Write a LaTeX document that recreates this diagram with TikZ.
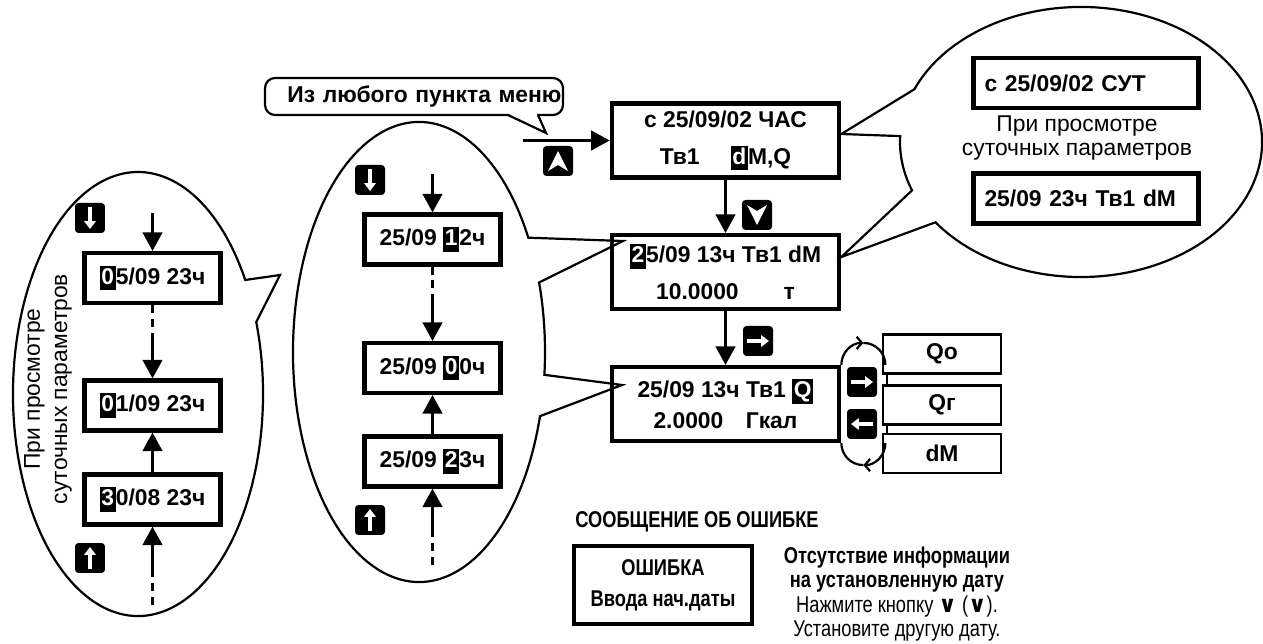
\documentclass[tikz,border=0pt]{standalone}
\usepackage{fontspec}
\setmainfont{Liberation Sans}
\newfontfamily\narrowsf[FakeStretch=0.8]{Liberation Sans}
\newfontfamily\symsf{DejaVu Sans}
\usetikzlibrary{arrows.meta,calc,positioning}
\newcommand{\inv}[1]{{\setlength{\fboxsep}{1pt}\colorbox{black}{\rule[-2.5pt]{0pt}{12pt}\textcolor{white}{#1}}}}
\tikzset{
  lcd/.style={draw,line width=2.4pt,minimum width=4.55cm,minimum height=1.48cm,align=center,inner sep=0pt,font=\fontsize{13}{15}\selectfont\bfseries},
  cell/.style={draw,line width=2.4pt,minimum width=2.72cm,minimum height=1.0cm,inner sep=0pt,font=\fontsize{13}{15}\selectfont\bfseries},
  daybox/.style={draw,line width=2.4pt,minimum height=1.0cm,text width=4.06cm,inner xsep=0.22cm,inner ysep=0pt,align=left,font=\fontsize{13}{15}\selectfont\bfseries},
  optbox/.style={draw,line width=1.5pt,minimum width=2.36cm,minimum height=0.78cm,inner sep=0pt,font=\fontsize{13}{15}\selectfont\bfseries},
  keybtn/.style={fill=black,rounded corners=2pt,minimum size=0.6cm,inner sep=0pt},
  note/.style={align=center,font=\fontsize{13}{13.5}\selectfont},
  flow/.style={line width=1.6pt,-{Triangle[length=0.37cm,width=0.39cm]}},
  gapline/.style={line width=1.6pt,dash pattern=on 4.5pt off 3.4pt},
  bubble/.style={line width=1.25pt,line join=miter},
  swing/.style={line width=1.25pt,-{Straight Barb[length=3pt,width=7pt]}},
  whitearr/.style={white,line width=1.8pt,-{Triangle[length=4.5pt,width=6.5pt]}}
}

\begin{document}
\begin{tikzpicture}[x=0.02cm,y=-0.02cm]
  \useasboundingbox (0,0) rectangle (1263,644);

  \node[lcd] (hourhdr) at (725.5,140.5) {с 25/09/02 ЧАС\\[6pt]Тв1\hspace{0.62cm}\inv{d}M,Q};
  \node[lcd] (dmval) at (725.5,272) {\inv{2}5/09 13ч Тв1 dM\\[6pt]10.0000\hspace{0.9cm}т};
  \node[lcd] (qval) at (725.5,404) {25/09 13ч Тв1 \inv{Q}\\[3pt]2.0000\hspace{0.45cm}Гкал};

  \node[draw,bubble,rounded corners=0.2cm,minimum width=5.96cm,minimum height=0.74cm,text width=5.9cm,align=right,inner sep=0.03cm,font=\fontsize{13}{15}\selectfont\bfseries] (anymenu) at (414,96.5) {Из любого пункта меню};
  \coordinate (tailL) at (508,115);
  \coordinate (tailR) at (538,115);
  \coordinate (tailtip) at (546,133);
  \fill[white] (509,112) -- (509,117) -- (tailtip) -- (537,117) -- (537,112) -- cycle;
  \draw[bubble] (tailL) -- (tailtip) -- (tailR);

  \coordinate (entry) at (523,140.5);
  \draw[flow] (entry) -- (hourhdr.west);
  \node[keybtn] (kup) at (558,161) {};
  \fill[white] ($(kup)+(0,-10)$) -- ($(kup)+(10,10)$) -- ($(kup)+(0,4)$) -- ($(kup)+(-10,10)$) -- cycle;

  \draw[flow] (hourhdr.south) -- (dmval.north);
  \node[keybtn] (kdown) at (757,215) {};
  \fill[white] ($(kdown)+(0,10)$) -- ($(kdown)+(10,-10)$) -- ($(kdown)+(0,-4)$) -- ($(kdown)+(-10,-10)$) -- cycle;

  \draw[flow] (dmval.south) -- (qval.north);
  \node[keybtn] (kright) at (758,341) {};
  \draw[whitearr] ($(kright)+(-11,0)$) -- ($(kright)+(11,0)$);

  \node[optbox] (qo) at (942,354) {Qo};
  \node[optbox] (qg) at (942,405) {Qг};
  \node[optbox] (dm) at (942,453.5) {dM};
  \draw[line width=1.2pt] ([xshift=0.1cm]qo.south west) -- ([xshift=0.1cm]qg.north west);
  \draw[line width=1.2pt] ([xshift=0.1cm]qg.south west) -- ([xshift=0.1cm]dm.north west);

  \draw[swing] (qval.north east) arc[start angle=180,end angle=270,radius=22] coordinate (topapex);
  \draw[line width=1.25pt] (topapex) arc[start angle=270,end angle=360,radius=22];
  \coordinate (dmfoot) at ($(qval.south east)+(44,0)$);
  \draw[swing] (dmfoot) arc[start angle=0,end angle=90,radius=22] coordinate (botapex);
  \draw[line width=1.25pt] (botapex) arc[start angle=90,end angle=180,radius=22];
  \node[keybtn] (kfwd) at (862,382) {};
  \draw[whitearr] ($(kfwd)+(-11,0)$) -- ($(kfwd)+(11,0)$);
  \node[keybtn] (kback) at (862,424) {};
  \draw[whitearr] ($(kback)+(11,0)$) -- ($(kback)+(-11,0)$);

  \coordinate (midc) at (419,352);
  \coordinate (tipdm) at (623,241);
  \coordinate (tipq) at (622,385);
  \draw[bubble] ($(midc)+(16.2:126 and 230)$) arc[start angle=16.2,end angle=330.2,x radius=126,y radius=230]
    -- (tipdm) -- ($(midc)+(342.4:126 and 230)$) arc[start angle=342.4,end angle=365.7,x radius=126,y radius=230]
    -- (tipq) -- cycle;
  \node[cell] (h12) at (432.5,239.5) {25/09 \inv{1}2ч};
  \node[cell] (h00) at (432.5,368) {25/09 \inv{0}0ч};
  \node[cell] (h23) at (432.5,461.5) {25/09 \inv{2}3ч};
  \coordinate (mtop) at (432.5,174);
  \coordinate (mgap) at (432.5,302);
  \coordinate (mgap2) at (432.5,533);
  \coordinate (mbot) at (432.5,565);
  \draw[flow] (mtop) -- (h12.north);
  \draw[gapline] (h12.south) -- (mgap);
  \draw[flow] (mgap) -- (h00.north);
  \draw[flow] (h23.north) -- (h00.south);
  \draw[gapline] (mbot) -- (mgap2);
  \draw[flow] (mgap2) -- (h23.south);
  \node[keybtn] (mdn) at (370,180) {};
  \draw[whitearr] ($(mdn)+(0,-11)$) -- ($(mdn)+(0,11)$);
  \node[keybtn] (mup) at (370,520) {};
  \draw[whitearr] ($(mup)+(0,11)$) -- ($(mup)+(0,-11)$);

  \coordinate (leftc) at (138,394);
  \coordinate (tipleft) at (280,275);
  \draw[bubble] ($(leftc)+(341.1:125 and 222)$) arc[start angle=341.1,end angle=689.1,x radius=125,y radius=222]
    -- (tipleft) -- cycle;
  \node[cell] (d05) at (152.5,278) {\inv{0}5/09 23ч};
  \node[cell] (d01) at (152.5,405.5) {\inv{0}1/09 23ч};
  \node[cell] (d30) at (152.5,499.5) {\inv{3}0/08 23ч};
  \coordinate (ltop) at (152.5,213);
  \coordinate (lgap) at (152.5,337);
  \coordinate (lgap2) at (152.5,570);
  \coordinate (lbot) at (152.5,605);
  \draw[flow] (ltop) -- (d05.north);
  \draw[gapline] (d05.south) -- (lgap);
  \draw[flow] (lgap) -- (d01.north);
  \draw[flow] (d30.north) -- (d01.south);
  \draw[gapline] (lbot) -- (lgap2);
  \draw[flow] (lgap2) -- (d30.south);
  \node[keybtn] (ldn) at (90,218) {};
  \draw[whitearr] ($(ldn)+(0,-11)$) -- ($(ldn)+(0,11)$);
  \node[keybtn] (lup) at (90,558) {};
  \draw[whitearr] ($(lup)+(0,11)$) -- ($(lup)+(0,-11)$);
  \node[note,rotate=90,font=\fontsize{13}{15.5}\selectfont] (leftnote) at (48,389) {При просмотре\\суточных параметров};

  \coordinate (rightc) at (1081,142);
  \coordinate (tiphr) at ($(hourhdr.east)+(0,-6.5)$);
  \coordinate (tipdmv) at ($(dmval.east)+(0,-15)$);
  \draw[bubble] ($(rightc)+(203:181 and 135)$) arc[start angle=203,end angle=503.5,x radius=181,y radius=135]
    -- (tipdmv) -- ($(rightc)+(159:181 and 135)$) arc[start angle=159,end angle=182.5,x radius=181,y radius=135]
    -- (tiphr) -- cycle;
  \node[daybox] (dayhdr) at (1086,83) {с 25/09/02 СУТ};
  \node[note] (daynote) at (1077,138) {При просмотре\\суточных параметров};
  \node[daybox] (dayval) at (1086,198.5) {25/09 23ч Тв1 dM};

  \node[anchor=west,inner sep=0pt,font=\narrowsf\fontsize{13}{15}\selectfont\bfseries] (errtitle) at (575,522) {СООБЩЕНИЕ ОБ ОШИБКЕ};
  \node[draw,line width=2.4pt,minimum width=3.56cm,minimum height=1.56cm,align=center,font=\narrowsf\fontsize{13}{15}\selectfont\bfseries] (errbox) at (663,585) {ОШИБКА\\[2.6pt]Ввода нач.даты};
  \node[align=center,font=\narrowsf\fontsize{13}{14}\selectfont] (errhint) at (897,594) {\textbf{Отсутствие информации}\\\textbf{на установленную дату}\\Нажмите кнопку {\symsf\bfseries ∨} ({\symsf\bfseries ∨}).\\Установите другую дату.};
\end{tikzpicture}
\end{document}
